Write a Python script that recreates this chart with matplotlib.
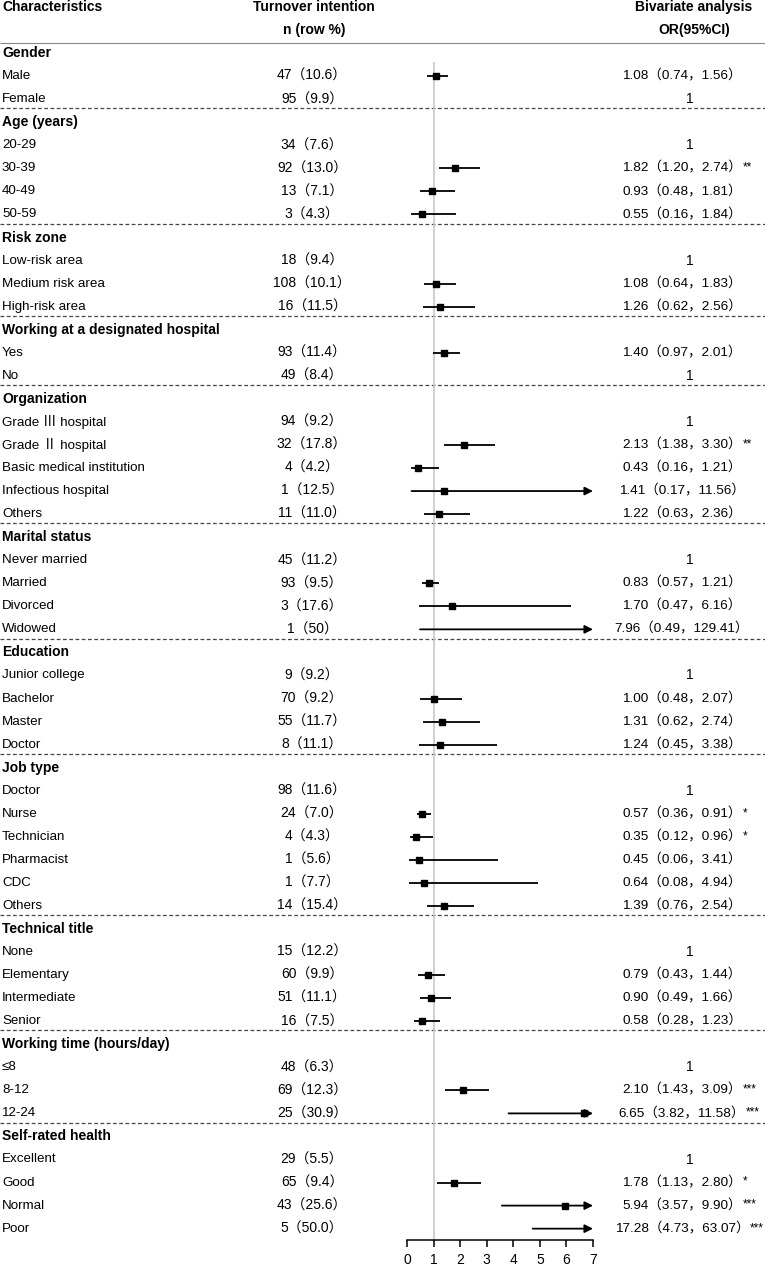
import numpy as np
import matplotlib.pyplot as plt

plt.rcParams['font.family'] = ['Liberation Sans', 'Noto Sans CJK SC', 'DejaVu Sans']

group_names = ["Gender", "Age (years)", "Risk zone", "Working at a designated hospital",
               "Organization", "Marital status", "Education", "Job type",
               "Technical title", "Working time (hours/day)", "Self-rated health"]
group_sizes = [2, 4, 3, 2, 5, 4, 4, 6, 4, 3, 4]

level_names = ["Male", "Female",
               "20-29", "30-39", "40-49", "50-59",
               "Low-risk area", "Medium risk area", "High-risk area",
               "Yes", "No",
               "Grade \u2162 hospital", "Grade \u2161 hospital", "Basic medical institution",
               "Infectious hospital", "Others",
               "Never married", "Married", "Divorced", "Widowed",
               "Junior college", "Bachelor", "Master", "Doctor",
               "Doctor", "Nurse", "Technician", "Pharmacist", "CDC", "Others",
               "None", "Elementary", "Intermediate", "Senior",
               "\u22648", "8-12", "12-24",
               "Excellent", "Good", "Normal", "Poor"]
n_cases = [47, 95, 34, 92, 13, 3, 18, 108, 16, 93, 49, 94, 32, 4, 1, 11,
           45, 93, 3, 1, 9, 70, 55, 8, 98, 24, 4, 1, 1, 14, 15, 60, 51, 16,
           48, 69, 25, 29, 65, 43, 5]
row_pct = ["10.6", "9.9", "7.6", "13.0", "7.1", "4.3", "9.4", "10.1", "11.5",
           "11.4", "8.4", "9.2", "17.8", "4.2", "12.5", "11.0", "11.2", "9.5",
           "17.6", "50", "9.2", "9.2", "11.7", "11.1", "11.6", "7.0", "4.3",
           "5.6", "7.7", "15.4", "12.2", "9.9", "11.1", "7.5", "6.3", "12.3",
           "30.9", "5.5", "9.4", "25.6", "50.0"]
# reference categories: OR = 1, no interval
odds_ratio = [1.08, 1, 1, 1.82, 0.93, 0.55, 1, 1.08, 1.26, 1.40, 1,
              1, 2.13, 0.43, 1.41, 1.22, 1, 0.83, 1.70, 7.96, 1, 1.00, 1.31, 1.24,
              1, 0.57, 0.35, 0.45, 0.64, 1.39, 1, 0.79, 0.90, 0.58,
              1, 2.10, 6.65, 1, 1.78, 5.94, 17.28]
ci_low = [0.74, None, None, 1.20, 0.48, 0.16, None, 0.64, 0.62, 0.97, None,
          None, 1.38, 0.16, 0.17, 0.63, None, 0.57, 0.47, 0.49, None, 0.48, 0.62, 0.45,
          None, 0.36, 0.12, 0.06, 0.08, 0.76, None, 0.43, 0.49, 0.28,
          None, 1.43, 3.82, None, 1.13, 3.57, 4.73]
ci_high = [1.56, None, None, 2.74, 1.81, 1.84, None, 1.83, 2.56, 2.01, None,
           None, 3.30, 1.21, 11.56, 2.36, None, 1.21, 6.16, 129.41, None, 2.07, 2.74, 3.38,
           None, 0.91, 0.96, 3.41, 4.94, 2.54, None, 1.44, 1.66, 1.23,
           None, 3.09, 11.58, None, 2.80, 9.90, 63.07]
signif = ["", "", "", "**", "", "", "", "", "", "", "",
          "", "**", "", "", "", "", "", "", "", "", "", "", "",
          "", "*", "*", "", "", "", "", "", "", "",
          "", "***", "***", "", "*", "***", "***"]

x_max = 7

# row k sits at pixel 7 + 23.05 * k from the top
row_h = 23.05
y_top = -7 / row_h
y_bot = (1269 - 7) / row_h
axis_row = 53.5

fig = plt.figure(figsize=(7.65, 12.69), dpi=100)
bg = fig.add_axes([0, 0, 1, 1])
bg.set_xlim(0, 765)
bg.set_ylim(y_bot, y_top)
bg.axis('off')

fa = fig.add_axes([407 / 765, 0, 186 / 765, 1])
fa.set_xlim(0, x_max)
fa.set_ylim(y_bot, y_top)
fa.patch.set_alpha(0)
for s in ['top', 'left', 'right']:
    fa.spines[s].set_visible(False)
fa.spines['bottom'].set_position(('data', axis_row))
fa.spines['bottom'].set_linewidth(1.1)
fa.set_yticks([])
fa.set_xticks(range(0, x_max + 1))
fa.tick_params(axis='x', direction='out', length=5, width=1.1, pad=4, labelsize=10)

fs = 9.6
fsn = 10
fso = 9.7
fsb = 10
col_n = 312
col_or = 682

# header
bg.text(2, 0, "Characteristics", fontsize=fsb, fontweight='bold', va='center')
bg.text(col_n + 2, 0, "Turnover intention", fontsize=fsb, fontweight='bold', va='center', ha='center')
bg.text(col_n + 2, 1, "n (row %)", fontsize=fsb, fontweight='bold', va='center', ha='center')
bg.text(col_or + 12, 0, "Bivariate analysis", fontsize=fsb, fontweight='bold', va='center', ha='center')
bg.text(col_or + 12, 1, "OR(95%CI)", fontsize=fsb, fontweight='bold', va='center', ha='center')
bg.hlines(1.56, 0, 765, colors='#888888', lw=0.8)

fa.vlines(1, 2.4, axis_row, color='#c8c8c8', lw=1.2, zorder=0)

row = 2
idx = 0
for g, size in zip(group_names, group_sizes):
    bg.text(2, row, g, fontsize=fsb, fontweight='bold', va='center')
    row += 1
    for _ in range(size):
        bg.text(2, row, level_names[idx], fontsize=fs, va='center')
        bg.text(col_n, row, f"{n_cases[idx]}（{row_pct[idx]}）", fontsize=fsn,
                va='center', ha='center')
        lo, hi, est = ci_low[idx], ci_high[idx], odds_ratio[idx]
        if lo is None:
            bg.text(col_or + 8, row, "1", fontsize=fsn, va='center', ha='center')
        else:
            t = bg.text(col_or, row, f"{est:.2f}（{lo:.2f}，{hi:.2f}）", fontsize=fso,
                        va='center', ha='center')
            if signif[idx]:
                bg.annotate(signif[idx], xy=(1, 0.5), xycoords=t, xytext=(0.5, 0.5),
                            textcoords='offset points', fontsize=8.5, va='center', ha='left')
            if hi > x_max:
                fa.annotate('', xy=(x_max, row), xytext=(lo, row),
                            arrowprops=dict(arrowstyle='-|>', color='black', lw=1.3,
                                            mutation_scale=12, shrinkA=0, shrinkB=0))
            else:
                fa.hlines(row, lo, hi, color='black', lw=1.3)
            if est <= x_max:
                fa.plot(est, row, 's', color='black', ms=5, clip_on=False)
        row += 1
        idx += 1
    if row < 54:
        bg.hlines(row - 0.6, 0, 765, colors='#444444', lw=0.9, linestyles=(0, (3, 2)))

fig.savefig("out.png", dpi=100)
